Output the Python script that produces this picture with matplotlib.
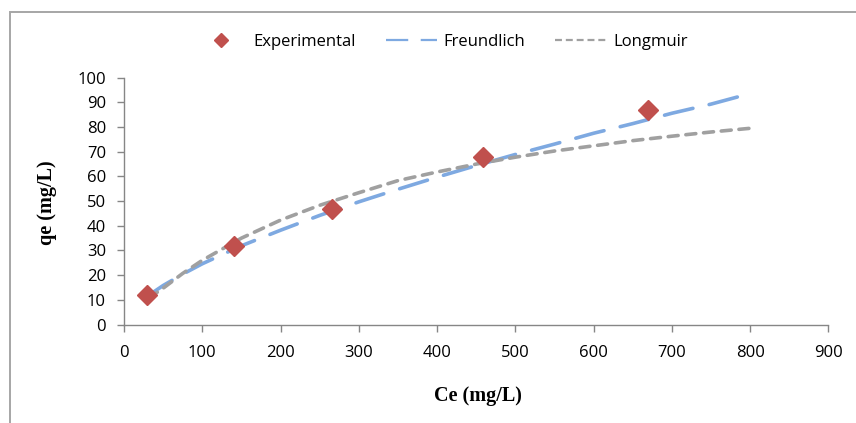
import matplotlib
matplotlib.use("Agg")
import matplotlib.pyplot as plt
from matplotlib.lines import Line2D
from matplotlib.patches import Rectangle

# Data
ce_exp = [30, 140, 266, 459, 669]
qe_exp = [12.0, 32.0, 47.0, 68.0, 87.0]

ce_freundlich = [30, 50, 75, 100, 150, 200, 250, 300, 350, 400, 450, 500, 550, 600, 650, 700, 750, 785]
qe_freundlich = [11.5, 15.8, 20.4, 24.6, 31.9, 38.2, 44.2, 49.7, 54.8, 59.7, 64.4, 68.9, 73.1, 77.5, 81.4, 85.6, 89.3, 92.3]

ce_langmuir = [32, 50, 75, 100, 150, 200, 250, 300, 350, 400, 450, 500, 550, 600, 650, 700, 750, 800]
qe_langmuir = [10.8, 14.7, 20.7, 26.0, 35.0, 42.3, 48.3, 53.4, 58.3, 61.8, 65.0, 67.8, 70.3, 72.4, 74.5, 76.3, 78.0, 79.5]

x_ticks = [0, 100, 200, 300, 400, 500, 600, 700, 800, 900]
y_ticks = [0, 10, 20, 30, 40, 50, 60, 70, 80, 90, 100]

RED = "#C0504D"
BLUE = "#7EA9E1"
GRAY = "#A0A0A0"
AXC = "#868686"
FONT = "Open Sans"

plt.rcParams["lines.scale_dashes"] = False
fig = plt.figure(figsize=(8.56, 4.23), dpi=100)
ax = fig.add_axes([124/856, 1-324.5/423, (828.5-124)/856, (324.5-77.7)/423])

ax.plot(ce_freundlich, qe_freundlich, color=BLUE, lw=2.6, dashes=(21, 12),
        dash_capstyle="round", solid_capstyle="round", zorder=2)
ax.plot(ce_langmuir, qe_langmuir, color=GRAY, lw=2.6, dashes=(7.2, 5.6),
        dash_capstyle="round", zorder=2)
ax.plot(ce_exp, qe_exp, linestyle="none", marker="D", ms=10, color=RED,
        markeredgecolor=RED, zorder=3)

ax.set_xlim(0, 900)
ax.set_ylim(0, 100)
ax.set_xticks(x_ticks)
ax.set_yticks(y_ticks)

for s in ["top", "right"]:
    ax.spines[s].set_visible(False)
for s in ["left", "bottom"]:
    ax.spines[s].set_color(AXC)
    ax.spines[s].set_linewidth(1.0)
ax.tick_params(axis="both", colors=AXC, length=5, width=1.0, direction="out",
               labelcolor="black", labelsize=12)
ax.tick_params(axis="x", pad=10)
ax.tick_params(axis="y", pad=8)
for lab in ax.get_xticklabels() + ax.get_yticklabels():
    lab.set_family(FONT)

fig.text(478/856, 1-396/423, "Ce (mg/L)", ha="center", va="center",
         family="Liberation Serif", fontweight="bold", fontsize=14.5)
fig.text(47/856, 1-203/423, "qe (mg/L)", ha="center", va="center", rotation=90,
         family="Liberation Serif", fontweight="bold", fontsize=14.5)

# frame
fig.patches.append(Rectangle((10/856, -0.1), 1.2, 1 - 12/423 + 0.1, transform=fig.transFigure,
                             fill=False, edgecolor="#A6A6A6", lw=1.4))

handles = [
    Line2D([], [], linestyle="none", marker="D", ms=7, color=RED),
    Line2D([], [], color=BLUE, lw=1.6, dashes=(16, 9)),
    Line2D([], [], color=GRAY, lw=1.6, dashes=(5, 2.8)),
]
labels = ["Experimental", "Freundlich", "Longmuir"]
fig.legend(handles, labels, loc="center", bbox_to_anchor=(441.5/856, 1-41.7/423),
           ncol=3, frameon=False, handlelength=3.1, handletextpad=0.38,
           columnspacing=1.8, prop={"family": FONT, "size": 12})

fig.savefig("out.png", dpi=100)
